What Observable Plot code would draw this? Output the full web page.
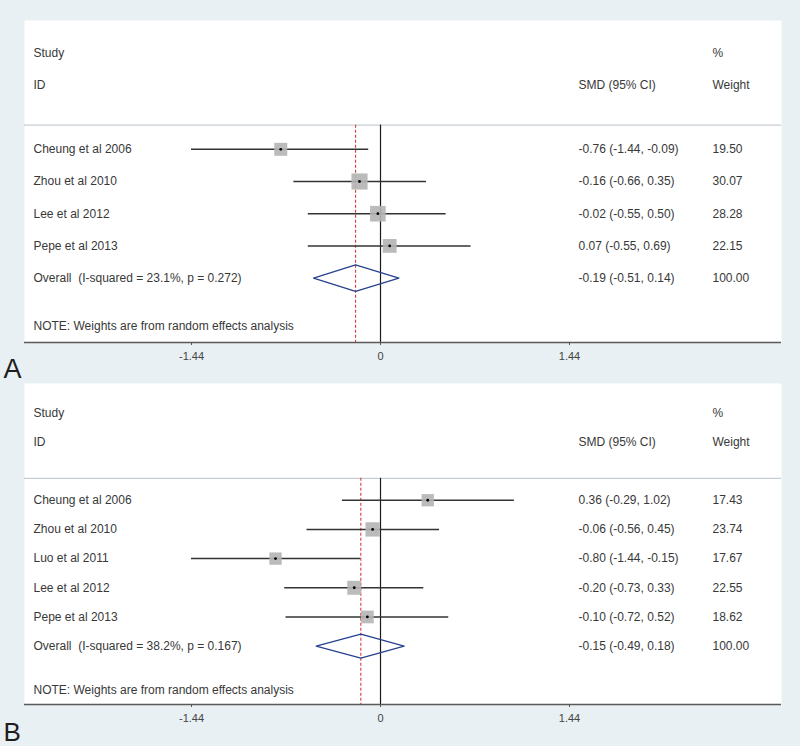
<!DOCTYPE html>
<html><head><meta charset="utf-8">
<script src="https://cdn.jsdelivr.net/npm/d3@7"></script>
<script src="https://cdn.jsdelivr.net/npm/@observablehq/plot@0.6"></script>
<style>
html,body{margin:0;padding:0;background:#e8f0f3;}
#chart{width:800px;height:746px;overflow:hidden;}
#chart svg{display:block;}
#chart text{white-space:pre;}
</style></head><body><div id="chart"></div>
<script>
// ---- Panel A data ----
const studiesA = ["Cheung et al 2006", "Zhou et al 2010", "Lee et al 2012", "Pepe et al 2013"];
const smdA = [-0.76, -0.16, -0.02, 0.07];
const loA = [-1.44, -0.66, -0.55, -0.55];
const hiA = [-0.09, 0.35, 0.50, 0.69];
const weightA = [19.50, 30.07, 28.28, 22.15];
const overallA = [-0.19, -0.51, 0.14];
const hetA = ["23.1%", "0.272"];

// ---- Panel B data ----
const studiesB = ["Cheung et al 2006", "Zhou et al 2010", "Luo et al 2011", "Lee et al 2012", "Pepe et al 2013"];
const smdB = [0.36, -0.06, -0.80, -0.20, -0.10];
const loB = [-0.29, -0.56, -1.44, -0.73, -0.72];
const hiB = [1.02, 0.45, -0.15, 0.33, 0.52];
const weightB = [17.43, 23.74, 17.67, 22.55, 18.62];
const overallB = [-0.15, -0.49, 0.18];
const hetB = ["38.2%", "0.167"];

const tickValues = [-1.44, 0, 1.44];
const headerLeft = ["Study", "ID"];
const headerSMD = "SMD (95% CI)";
const headerW = ["%", "Weight"];
const note = "NOTE: Weights are from random effects analysis";

const FONT = "'Liberation Sans', Arial, Helvetica, sans-serif";
const fmt = v => v.toFixed(2);

function panel(cfg) {
  const {label, studies, smd, lo, hi, weight, overall, het, height, marginTop, marginBottom, labelDy, labelSize} = cfg;
  const n = studies.length;
  const rows = studies.map((s, i) => ({study: s, row: i, smd: smd[i], lo: lo[i], hi: hi[i], w: weight[i]}));
  const ov = {es: overall[0], lo: overall[1], hi: overall[2], i2: het[0], p: het[1], row: n};
  const dh = 0.41;
  const diamond = [
    {x: ov.lo, y: n}, {x: ov.es, y: n - dh}, {x: ov.hi, y: n}, {x: ov.es, y: n + dh}, {x: ov.lo, y: n}
  ];
  const yTop = -4, yBottom = n + 2, sepRow = -0.75;
  const txt = {fontSize: 12, fill: "#383838", textAnchor: "start"};
  const colSMD = {frameAnchor: "right", dx: -203};
  const colW = {frameAnchor: "right", dx: -69};
  const colL = {frameAnchor: "left", dx: 9};
  return Plot.plot({
    width: 800, height, marginLeft: 24, marginRight: 19, marginTop, marginBottom,
    style: {background: "none", fontFamily: FONT, overflow: "visible"},
    x: {domain: [-2.7124, 3.0552]},
    y: {domain: [yTop, yBottom], reverse: true, axis: null},
    r: {type: "sqrt", domain: [0, 100], range: [0, 16.6]},
    marks: [
      Plot.frame({fill: "white", stroke: null}),
      Plot.ruleY([sepRow], {stroke: "#c6ced4", strokeWidth: 1.2}),
      Plot.ruleX([0], {y1: sepRow, y2: yBottom, stroke: "#1a1a1a", strokeWidth: 1.2}),
      Plot.ruleX([ov.es], {y1: sepRow, y2: yBottom, stroke: "#d93a3a", strokeWidth: 1.1, strokeDasharray: "3,2"}),
      Plot.ruleY(rows, {y: "row", x1: "lo", x2: "hi", stroke: "#333", strokeWidth: 1.5}),
      Plot.dot(rows, {x: "smd", y: "row", r: "w", symbol: "square", fill: "#b4b4b4", fillOpacity: 0.9, stroke: null}),
      Plot.dot(rows, {x: "smd", y: "row", r: 1.4, fill: "#000", stroke: null}),
      Plot.line(diamond, {x: "x", y: "y", stroke: "#26418f", strokeWidth: 1.3, curve: "linear"}),
      Plot.ruleY([yBottom], {stroke: "#5a5a5a", strokeWidth: 1.3}),
      Plot.axisX(tickValues, {tickSize: 3, tickPadding: 7, fontSize: 11, fill: "#444", stroke: "#555",
        tickFormat: d => d === 0 ? "0" : d.toFixed(2), label: null}),
      // headers
      Plot.text(headerLeft, {...txt, ...colL, y: [-3, -2], text: d => d}),
      Plot.text([headerSMD], {...txt, ...colSMD, y: [-2], text: d => d}),
      Plot.text(headerW, {...txt, ...colW, y: [-3, -2], text: d => d}),
      // study rows
      Plot.text(rows, {...txt, ...colL, y: "row", text: "study"}),
      Plot.text(rows, {...txt, ...colSMD, y: "row", text: d => `${fmt(d.smd)} (${fmt(d.lo)}, ${fmt(d.hi)})`}),
      Plot.text(rows, {...txt, ...colW, y: "row", text: d => fmt(d.w)}),
      // overall
      Plot.text([ov], {...txt, ...colL, y: "row", text: d => `Overall  (I-squared = ${d.i2}, p = ${d.p})`}),
      Plot.text([ov], {...txt, ...colSMD, y: "row", text: d => `${fmt(d.es)} (${fmt(d.lo)}, ${fmt(d.hi)})`}),
      Plot.text([ov], {...txt, ...colW, y: "row", text: () => fmt(100)}),
      // note
      Plot.text([note], {...txt, ...colL, y: [n + 1.5], text: d => d}),
      // panel label
      Plot.text([label], {frameAnchor: "bottom-left", dx: -21, dy: labelDy, lineAnchor: "bottom",
        textAnchor: "start", fontSize: labelSize, fill: "#1e1e1e", text: d => d})
    ]
  });
}

const chart = document.getElementById("chart");
chart.append(panel({label: "A", studies: studiesA, smd: smdA, lo: loA, hi: hiA, weight: weightA,
  overall: overallA, het: hetA, height: 380, marginTop: 20, marginBottom: 38, labelDy: 35, labelSize: 27}));
chart.append(panel({label: "B", studies: studiesB, smd: smdB, lo: loB, hi: hiB, weight: weightB,
  overall: overallB, het: hetB, height: 366, marginTop: 3, marginBottom: 42, labelDy: 36, labelSize: 26}));
</script>
</body></html>
